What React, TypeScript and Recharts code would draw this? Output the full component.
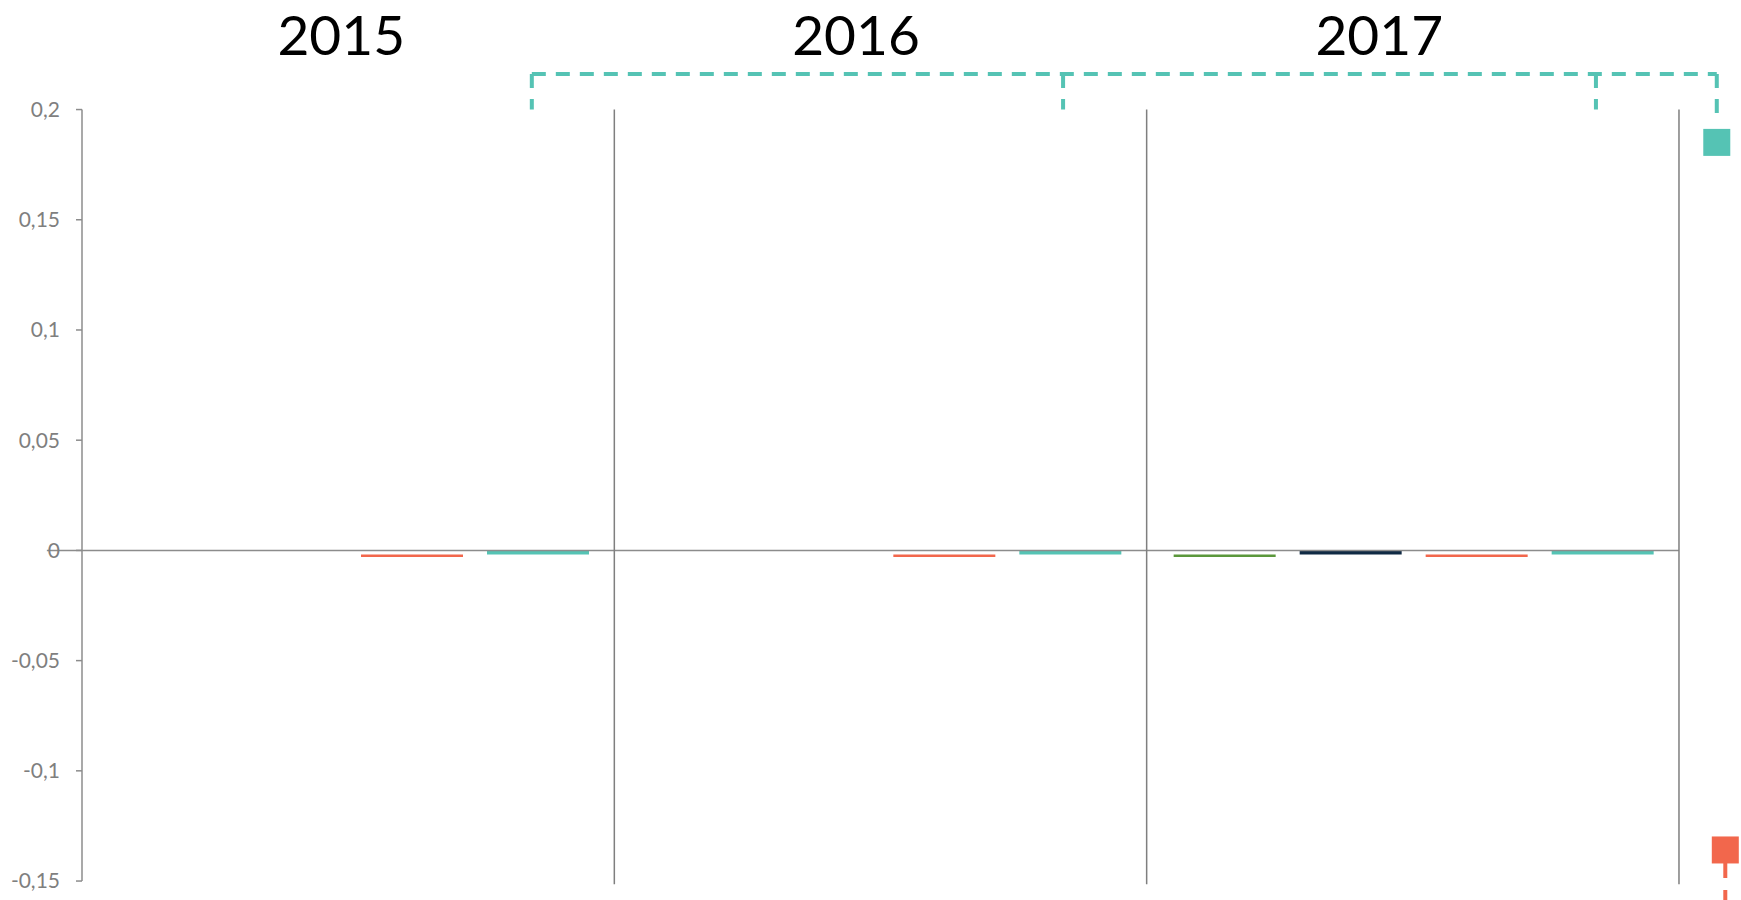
import React from 'react';
import { ComposedChart, Bar, XAxis, YAxis, ReferenceLine, ReferenceDot, Scatter } from 'recharts';

const years = ['2015', '2016', '2017'];

// floating waterfall pieces, [low, high]
const greenSeries = [null, null, [-0.003, -0.0019]];
const navySeries = [null, null, [-0.0019, 0]];
const redSeries = [[-0.003, -0.0019], [-0.003, -0.0019], [-0.003, -0.0019]];
const tealSeries = [[-0.0019, 0], [-0.0019, 0], [-0.0019, 0]];

const yTicks = [-0.15, -0.1, -0.05, 0, 0.05, 0.1, 0.15, 0.2];

// year titles, in category units (0..3)
const titleX = [0.487, 1.454, 2.437];
const titleY = 0.2335;

// teal dashed connector above the plot
const bracketX = [0.845, 1.843, 2.844, 3.071];
const bracketLevel = 0.2161;
const bracketEnd = [0.2, 0.2, 0.2, 0.1975];

const tealMarker = [{ x: 3.071, y: 0.1851 }];
const redMarker = [{ x: 3.087, y: -0.1359 }];
const redTail = [-0.1418, -0.1586];

const TEAL = '#55c3b4';
const RED = '#f2674c';
const GREEN = '#5b973b';
const NAVY = '#102a44';
const GRID = '#8c8c8c';
const FONT = 'Lato, "Open Sans", sans-serif';

const rows = years.map((year, i) => ({
  year,
  green: greenSeries[i],
  navy: navySeries[i],
  red: redSeries[i],
  teal: tealSeries[i],
}));

const fmt = (v: number) => String(v).replace('.', ',');

const square = (color: string) => (p: any) => (
  <rect x={p.cx - 13.5} y={p.cy - 13.5} width={27} height={27} fill={color} />
);

const App = () => {
  return (
    <div style={{ position: 'absolute', left: 0, top: 0, background: '#fff' }}>
      <ComposedChart
        width={1741}
        height={900}
        data={rows}
        margin={{ top: 0, right: 0, bottom: 0, left: 0 }}
        barCategoryGap={27}
        barGap={24}
      >
        <XAxis xAxisId="cat" dataKey="year" hide padding={{ left: 0, right: 62 }} />
        <XAxis xAxisId="n" type="number" dataKey="x" domain={[0, 3.1165]} allowDataOverflow hide />
        <YAxis
          width={82}
          domain={[-0.1586, 0.2497]}
          allowDataOverflow
          ticks={yTicks}
          interval={0}
          axisLine={false}
          tickLine={{ stroke: GRID, strokeWidth: 1.5 }}
          tickSize={6}
          tickMargin={16}
          tick={{ fill: '#7f7f7f', fontSize: 21, fontFamily: FONT }}
          tickFormatter={fmt}
        />

        {/* axis line, zero line, year separators */}
        <ReferenceLine xAxisId="n" ifOverflow="visible" stroke={GRID} strokeWidth={1.5}
          segment={[{ x: 0, y: 0.2 }, { x: 0, y: -0.15 }]} />
        <ReferenceLine xAxisId="n" ifOverflow="visible" stroke={GRID} strokeWidth={1.5}
          segment={[{ x: -0.066, y: 0 }, { x: 3, y: 0 }]} />
        {[1, 2, 3].map((k) => (
          <ReferenceLine key={k} xAxisId="n" ifOverflow="visible" stroke="#7f7f7f" strokeWidth={1.5}
            segment={[{ x: k, y: 0.2 }, { x: k, y: -0.1514 }]} />
        ))}

        <Bar xAxisId="cat" dataKey="green" fill={GREEN} isAnimationActive={false} />
        <Bar xAxisId="cat" dataKey="navy" fill={NAVY} isAnimationActive={false} />
        <Bar xAxisId="cat" dataKey="red" fill={RED} isAnimationActive={false} />
        <Bar xAxisId="cat" dataKey="teal" fill={TEAL} isAnimationActive={false} />

        {/* dashed connector */}
        <ReferenceLine xAxisId="n" ifOverflow="visible" stroke={TEAL} strokeWidth={4} strokeDasharray="14 10"
          segment={[{ x: bracketX[0], y: bracketLevel }, { x: bracketX[3], y: bracketLevel }]} />
        {bracketX.map((bx, i) => (
          <ReferenceLine key={'b' + i} xAxisId="n" ifOverflow="visible" stroke={TEAL} strokeWidth={4}
            strokeDasharray="14 11"
            segment={[{ x: bx, y: bracketLevel }, { x: bx, y: bracketEnd[i] }]} />
        ))}
        <ReferenceLine xAxisId="n" ifOverflow="visible" stroke={RED} strokeWidth={4} strokeDasharray="15 12"
          segment={[{ x: redMarker[0].x, y: redTail[0] }, { x: redMarker[0].x, y: redTail[1] }]} />

        <Scatter xAxisId="n" data={tealMarker} dataKey="y" shape={square(TEAL)} isAnimationActive={false} />
        <Scatter xAxisId="n" data={redMarker} dataKey="y" shape={square(RED)} isAnimationActive={false} />

        {years.map((yr, i) => (
          <ReferenceDot
            key={yr}
            xAxisId="n"
            x={titleX[i]}
            y={titleY}
            r={0}
            ifOverflow="visible"
            label={{ value: yr, position: 'center', fill: '#000', fontSize: 55, fontFamily: FONT }}
          />
        ))}
      </ComposedChart>
    </div>
  );
};

export default App;
